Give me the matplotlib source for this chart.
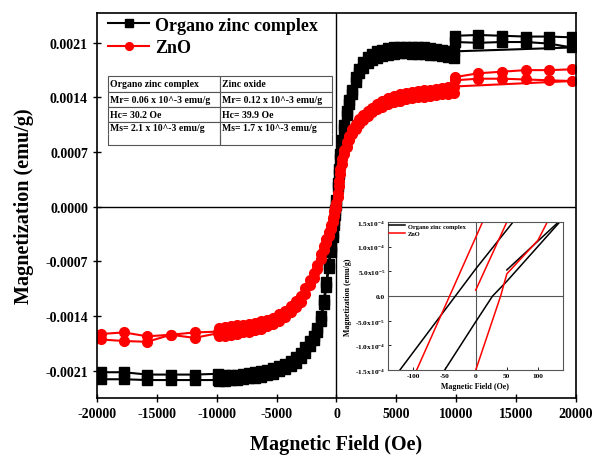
import numpy as np
import matplotlib
matplotlib.use("Agg")
import matplotlib.pyplot as plt

plt.rcParams['font.family'] = 'Liberation Serif'
plt.rcParams['font.weight'] = 'bold'
plt.rcParams['axes.labelweight'] = 'bold'
plt.rcParams['mathtext.fontset'] = 'custom'
plt.rcParams['mathtext.rm'] = 'Liberation Serif:bold'
plt.rcParams['mathtext.default'] = 'rm'
plt.rcParams['axes.unicode_minus'] = False

# --- main loop, dense part (Oe, emu/g): descending (up) and ascending (lo) branches ---
h_dense = [-9800, -9300, -8800, -8300, -7800, -7300, -6800, -6300, -5800, -5300,
           -4800, -4300, -3800, -3400, -3000, -2600, -2200, -1900, -1600, -1300,
           -1050, -850, -650, -480, -330, -200, -90, 0, 90, 200, 330, 480, 650,
           850, 1050, 1300, 1600, 1900, 2200, 2600, 3000, 3400, 3800, 4300, 4800,
           5300, 5800, 6300, 6800, 7300, 7800, 8300, 8800, 9300, 9800]
organo_up = [-0.00216, -0.00216, -0.00215, -0.00215, -0.00214, -0.00213, -0.00212,
             -0.00211, -0.00209, -0.00207, -0.00204, -0.00201, -0.00197, -0.00193,
             -0.00187, -0.00180, -0.00172, -0.00165, -0.00155, -0.00140, -0.00119,
             -0.00097, -0.00073, -0.00052, -0.00033, -0.00017, -0.00004, 0.00008,
             0.00031, 0.00048, 0.00067, 0.00086, 0.00105, 0.00123, 0.00137, 0.00150,
             0.00166, 0.00177, 0.00185, 0.00192, 0.00196, 0.00199, 0.00201, 0.00203,
             0.00204, 0.00205, 0.00205, 0.00204, 0.00204, 0.00204, 0.00203, 0.00202,
             0.00201, 0.00200, 0.00199]
organo_lo = [-0.00223, -0.00223, -0.00222, -0.00222, -0.00221, -0.00220, -0.00219,
             -0.00218, -0.00216, -0.00214, -0.00211, -0.00208, -0.00204, -0.00200,
             -0.00194, -0.00187, -0.00179, -0.00171, -0.00161, -0.00146, -0.00125,
             -0.00103, -0.00079, -0.00058, -0.00039, -0.00023, -0.00010, 0.00002,
             0.00025, 0.00042, 0.00061, 0.00080, 0.00099, 0.00117, 0.00131, 0.00144,
             0.00160, 0.00171, 0.00178, 0.00184, 0.00188, 0.00191, 0.00193, 0.00195,
             0.00196, 0.00197, 0.00197, 0.00196, 0.00196, 0.00196, 0.00195, 0.00194,
             0.00193, 0.00192, 0.00191]
zno_up = [-0.00155, -0.00154, -0.00153, -0.00152, -0.00151, -0.00150, -0.00149,
          -0.00147, -0.00145, -0.00142, -0.00138, -0.00133, -0.00127, -0.00121,
          -0.00114, -0.00104, -0.00094, -0.00085, -0.00074, -0.00061, -0.00050,
          -0.00041, -0.00032, -0.00023, -0.00014, -0.00006, 0.00000, 0.00005,
          0.00018, 0.00033, 0.00048, 0.00061, 0.00073, 0.00083, 0.00091, 0.00099,
          0.00106, 0.00112, 0.00117, 0.00122, 0.00127, 0.00131, 0.00135, 0.00139,
          0.00142, 0.00144, 0.00146, 0.00147, 0.00148, 0.00149, 0.00150, 0.00151,
          0.00152, 0.00153, 0.00154]
zno_lo = [-0.00166, -0.00165, -0.00164, -0.00163, -0.00161, -0.00160, -0.00158,
          -0.00156, -0.00153, -0.00150, -0.00146, -0.00141, -0.00135, -0.00129,
          -0.00122, -0.00112, -0.00100, -0.00091, -0.00080, -0.00067, -0.00056,
          -0.00047, -0.00038, -0.00029, -0.00020, -0.00012, -0.00006, -0.00001,
          0.00012, 0.00027, 0.00042, 0.00055, 0.00067, 0.00077, 0.00085, 0.00093,
          0.00100, 0.00106, 0.00111, 0.00116, 0.00121, 0.00125, 0.00128, 0.00131,
          0.00134, 0.00136, 0.00138, 0.00139, 0.00140, 0.00141, 0.00142, 0.00143,
          0.00144, 0.00145, 0.00146]

# --- sparse high-field points, two passes ---
h_pos = [9900, 11850, 13850, 15800, 17750, 19650]
h_neg = [-9900, -11850, -13850, -15800, -17750, -19700]
organo_pos_a = [0.00219, 0.00220, 0.00219, 0.00218, 0.00218, 0.00217]
organo_pos_b = [0.00211, 0.00210, 0.00211, 0.00211, 0.00209, 0.00204]
organo_neg_a = [-0.00214, -0.00215, -0.00215, -0.00215, -0.00212, -0.00212]
organo_neg_b = [-0.00222, -0.00222, -0.00222, -0.00222, -0.00221, -0.00221]
zno_pos_a = [0.00166, 0.00171, 0.00173, 0.00175, 0.00175, 0.00176]
zno_pos_b = [0.00162, 0.00164, 0.00164, 0.00163, 0.00162, 0.00161]
zno_neg_a = [-0.00160, -0.00161, -0.00164, -0.00166, -0.00161, -0.00163]
zno_neg_b = [-0.00162, -0.00168, -0.00164, -0.00173, -0.00172, -0.00170]

# --- inset (low field zoom) ---
in_org_1_h = [-122, 0, 60]
in_org_1_m = [-1.5e-4, 5.5e-5, 1.5e-4]
in_org_2_h = [-50, 0, 27, 50, 135]
in_org_2_m = [-1.5e-4, -5.2e-5, 0.0, 3.0e-5, 1.5e-4]
in_org_3_h = [50, 133]
in_org_3_m = [5.3e-5, 1.5e-4]
in_zno_1_h = [-95, 11]
in_zno_1_m = [-1.5e-4, 1.5e-4]
in_zno_2_h = [0, 50]
in_zno_2_m = [1.2e-5, 1.5e-4]
in_zno_3_h = [0, 40, 50, 100, 115]
in_zno_3_m = [-1.5e-4, 0.0, 4.5e-5, 1.13e-4, 1.5e-4]
in_yticks = [-1.5e-4, -1.0e-4, -5.0e-5, 0.0, 5.0e-5, 1.0e-4, 1.5e-4]
in_ylabels = ['-1.5x10$^{-4}$', '-1.0x10$^{-4}$', '-5.0x10$^{-5}$', '0.0',
              '5.0x10$^{-5}$', '1.0x10$^{-4}$', '1.5x10$^{-4}$']

# --- table ---
col_organo = ['Organo zinc complex', 'Mr= 0.06 x 10^-3 emu/g', 'Hc= 30.2 Oe',
              'Ms= 2.1 x 10^-3 emu/g', '']
col_zno = ['Zinc oxide', 'Mr= 0.12 x 10^-3 emu/g', 'Hc= 39.9 Oe',
           'Ms= 1.7 x 10^-3 emu/g', '']

fig = plt.figure(figsize=(5.95, 4.56), dpi=100)
ax = fig.add_axes([0.163, 0.125, 0.805, 0.844])

ax.axhline(0, color='k', lw=1, zorder=1)
ax.axvline(0, color='k', lw=1, zorder=1)

ms = 7
blk = dict(color='k', marker='s', ms=ms, lw=1.5)
red = dict(color='red', marker='o', ms=ms, lw=1.5)
ax.plot(h_dense + h_pos, organo_lo + organo_pos_a, label='Organo zinc complex', **blk)
ax.plot(h_pos + h_dense[::-1], organo_pos_b + organo_up[::-1], **blk)
ax.plot(h_neg, organo_neg_a, **blk)
ax.plot(h_neg, organo_neg_b, **blk)
ax.plot(h_dense + h_pos, zno_lo + zno_pos_a, label='ZnO', **red)
ax.plot(h_pos + h_dense[::-1], zno_pos_b + zno_up[::-1], **red)
ax.plot(h_neg, zno_neg_a, **red)
ax.plot(h_neg, zno_neg_b, **red)

ax.set_xlim(-20000, 20000)
ax.set_ylim(-0.00245, 0.00248)
ax.set_xticks(np.arange(-20000, 20001, 5000))
ax.set_yticks([-0.0021, -0.0014, -0.0007, 0, 0.0007, 0.0014, 0.0021])
ax.yaxis.set_major_formatter(matplotlib.ticker.FormatStrFormatter('%.4f'))
ax.tick_params(labelsize=10, direction='inout', length=6, width=1)
for sp in ax.spines.values():
    sp.set_linewidth(1.2)
ax.set_xlabel('Magnetic Field (Oe)', fontsize=14.5, labelpad=10)
ax.set_ylabel('Magnetization (emu/g)', fontsize=14.5, labelpad=8)

ax.legend(loc='upper left', bbox_to_anchor=(0.015, 1.0), frameon=False,
          fontsize=13, handlelength=2.3, handletextpad=0.3, labelspacing=0.3,
          borderpad=0.2, borderaxespad=0, markerscale=0.8)

cells = [[a, b] for a, b in zip(col_organo, col_zno)]
tab = ax.table(cellText=cells, cellLoc='left', loc='upper left',
               bbox=[0.023, 0.657, 0.468, 0.179])
tab.auto_set_font_size(False)
tab.set_fontsize(7)
heights = [1.0, 1.0, 1.0, 0.75, 0.75]
for (r, c), cell in tab.get_celld().items():
    cell.set_height(heights[r])
    cell.set_edgecolor('#555555')
    cell.set_linewidth(0.8)
    cell.PAD = 0.02
    cell.get_text().set_fontweight('bold')
    if r == 3:
        cell.visible_edges = 'LRT'
    elif r == 4:
        cell.visible_edges = 'LRB'

# inset
ins = fig.add_axes([0.652, 0.186, 0.294, 0.325])
ins.axhline(0, color='#555555', lw=0.8)
ins.axvline(0, color='#555555', lw=0.8)
ins.plot(in_org_1_h, in_org_1_m, 'k-', lw=1.1, label='Organo zinc complex')
ins.plot(in_org_2_h, in_org_2_m, 'k-', lw=1.1)
ins.plot(in_org_3_h, in_org_3_m, 'k-', lw=1.1)
ins.plot(in_zno_1_h, in_zno_1_m, '-', color='red', lw=1.1, label='ZnO')
ins.plot(in_zno_2_h, in_zno_2_m, '-', color='red', lw=1.1)
ins.plot(in_zno_3_h, in_zno_3_m, '-', color='red', lw=1.1)
ins.set_xlim(-141, 140)
ins.set_ylim(-1.5e-4, 1.5e-4)
ins.set_xticks([-100, -50, 0, 50, 100])
ins.set_yticks(in_yticks)
ins.set_yticklabels(in_ylabels)
ins.tick_params(labelsize=5.3, direction='in', length=2, width=0.6, pad=2)
for sp in ins.spines.values():
    sp.set_linewidth(0.8)
    sp.set_color('#555555')
ins.set_xlabel('Magnetic Field (Oe)', fontsize=5.7, labelpad=3)
ins.set_ylabel('Magnetization (emu/g)', fontsize=5.7, labelpad=2)
ins.legend(loc='upper left', frameon=False, fontsize=4.6, handlelength=2.5,
           handletextpad=0.4, labelspacing=0.3, borderpad=0.1, borderaxespad=0.1)

fig.savefig('out.png', dpi=100)
